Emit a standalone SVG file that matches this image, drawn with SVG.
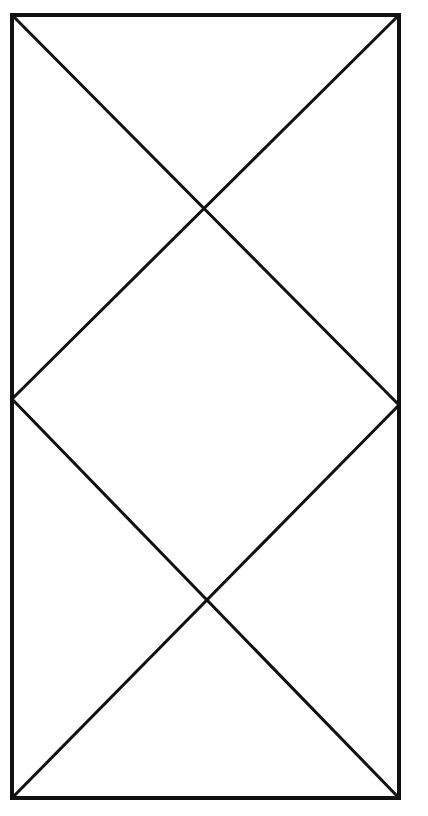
<svg xmlns="http://www.w3.org/2000/svg" width="428" height="816" viewBox="0 0 428 816">
<style>
.frame{fill:none;stroke:#111;stroke-width:4}
.diag{fill:none;stroke:#111;stroke-width:3;stroke-linecap:round}
</style>
<rect x="0" y="0" width="428" height="816" fill="#fff"/>
<g id="frame"><rect class="frame" x="12" y="15" width="387" height="783"/></g>
<g id="connectors">
<line class="diag" x1="12" y1="15" x2="399" y2="405"/>
<line class="diag" x1="399" y1="15" x2="12" y2="399"/>
<line class="diag" x1="12" y1="399" x2="399" y2="798"/>
<line class="diag" x1="399" y1="405" x2="12" y2="798"/>
</g>
</svg>
